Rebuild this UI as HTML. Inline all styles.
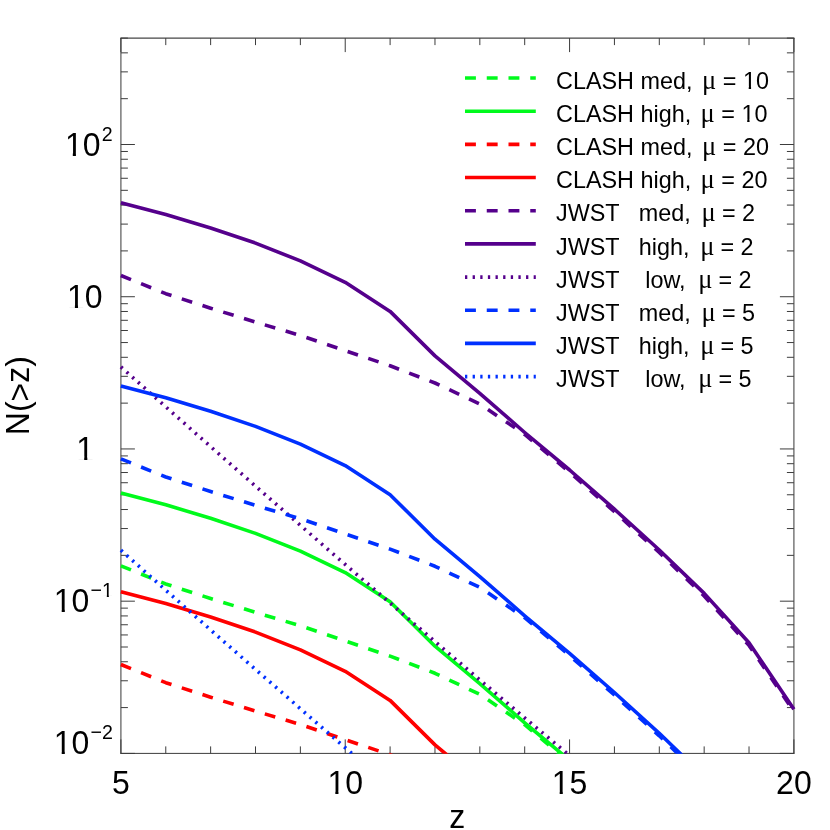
<!DOCTYPE html>
<html><head><meta charset="utf-8"><title>N(&gt;z)</title>
<style>html,body{margin:0;padding:0;background:#fff}svg{display:block;will-change:transform}text{font-family:"Liberation Sans",sans-serif;fill:#000;white-space:pre}.mu{font-family:"Liberation Serif",serif}</style></head><body>
<svg width="830" height="830" viewBox="0 0 830 830">
<rect width="830" height="830" fill="#fff"/>
<defs><clipPath id="c"><rect x="117.9" y="38.1" width="679.0" height="715.6"/></clipPath></defs>
<g stroke="#3c3c3c" stroke-width="1.2" fill="none">
<line x1="120.9" y1="38.1" x2="120.9" y2="753.4" stroke-opacity="0.85"/>
<line x1="793.9" y1="38.1" x2="793.9" y2="753.4" stroke-opacity="0.85"/>
<line x1="120.30000000000001" y1="38.1" x2="794.5" y2="38.1" stroke-opacity="0.95"/>
<line x1="120.30000000000001" y1="753.4" x2="794.5" y2="753.4" stroke-width="1"/>
</g>
<g stroke="#3c3c3c" stroke-width="1" fill="none">
<line x1="120.90" y1="753.4" x2="120.90" y2="739.4"/>
<line x1="120.90" y1="38.1" x2="120.90" y2="52.1"/>
<line x1="165.77" y1="753.4" x2="165.77" y2="746.4"/>
<line x1="165.77" y1="38.1" x2="165.77" y2="45.1"/>
<line x1="210.63" y1="753.4" x2="210.63" y2="746.4"/>
<line x1="210.63" y1="38.1" x2="210.63" y2="45.1"/>
<line x1="255.50" y1="753.4" x2="255.50" y2="746.4"/>
<line x1="255.50" y1="38.1" x2="255.50" y2="45.1"/>
<line x1="300.37" y1="753.4" x2="300.37" y2="746.4"/>
<line x1="300.37" y1="38.1" x2="300.37" y2="45.1"/>
<line x1="345.23" y1="753.4" x2="345.23" y2="739.4"/>
<line x1="345.23" y1="38.1" x2="345.23" y2="52.1"/>
<line x1="390.10" y1="753.4" x2="390.10" y2="746.4"/>
<line x1="390.10" y1="38.1" x2="390.10" y2="45.1"/>
<line x1="434.97" y1="753.4" x2="434.97" y2="746.4"/>
<line x1="434.97" y1="38.1" x2="434.97" y2="45.1"/>
<line x1="479.83" y1="753.4" x2="479.83" y2="746.4"/>
<line x1="479.83" y1="38.1" x2="479.83" y2="45.1"/>
<line x1="524.70" y1="753.4" x2="524.70" y2="746.4"/>
<line x1="524.70" y1="38.1" x2="524.70" y2="45.1"/>
<line x1="569.57" y1="753.4" x2="569.57" y2="739.4"/>
<line x1="569.57" y1="38.1" x2="569.57" y2="52.1"/>
<line x1="614.43" y1="753.4" x2="614.43" y2="746.4"/>
<line x1="614.43" y1="38.1" x2="614.43" y2="45.1"/>
<line x1="659.30" y1="753.4" x2="659.30" y2="746.4"/>
<line x1="659.30" y1="38.1" x2="659.30" y2="45.1"/>
<line x1="704.17" y1="753.4" x2="704.17" y2="746.4"/>
<line x1="704.17" y1="38.1" x2="704.17" y2="45.1"/>
<line x1="749.03" y1="753.4" x2="749.03" y2="746.4"/>
<line x1="749.03" y1="38.1" x2="749.03" y2="45.1"/>
<line x1="793.90" y1="753.4" x2="793.90" y2="739.4"/>
<line x1="793.90" y1="38.1" x2="793.90" y2="52.1"/>
<line x1="120.9" y1="753.4" x2="134.9" y2="753.4"/>
<line x1="793.9" y1="753.4" x2="779.9" y2="753.4"/>
<line x1="120.9" y1="707.58" x2="127.9" y2="707.58"/>
<line x1="793.9" y1="707.58" x2="786.9" y2="707.58"/>
<line x1="120.9" y1="680.77" x2="127.9" y2="680.77"/>
<line x1="793.9" y1="680.77" x2="786.9" y2="680.77"/>
<line x1="120.9" y1="661.75" x2="127.9" y2="661.75"/>
<line x1="793.9" y1="661.75" x2="786.9" y2="661.75"/>
<line x1="120.9" y1="647.0" x2="127.9" y2="647.0"/>
<line x1="793.9" y1="647.0" x2="786.9" y2="647.0"/>
<line x1="120.9" y1="634.95" x2="127.9" y2="634.95"/>
<line x1="793.9" y1="634.95" x2="786.9" y2="634.95"/>
<line x1="120.9" y1="624.76" x2="127.9" y2="624.76"/>
<line x1="793.9" y1="624.76" x2="786.9" y2="624.76"/>
<line x1="120.9" y1="615.93" x2="127.9" y2="615.93"/>
<line x1="793.9" y1="615.93" x2="786.9" y2="615.93"/>
<line x1="120.9" y1="608.14" x2="127.9" y2="608.14"/>
<line x1="793.9" y1="608.14" x2="786.9" y2="608.14"/>
<line x1="120.9" y1="601.18" x2="134.9" y2="601.18"/>
<line x1="793.9" y1="601.18" x2="779.9" y2="601.18"/>
<line x1="120.9" y1="555.35" x2="127.9" y2="555.35"/>
<line x1="793.9" y1="555.35" x2="786.9" y2="555.35"/>
<line x1="120.9" y1="528.55" x2="127.9" y2="528.55"/>
<line x1="793.9" y1="528.55" x2="786.9" y2="528.55"/>
<line x1="120.9" y1="509.53" x2="127.9" y2="509.53"/>
<line x1="793.9" y1="509.53" x2="786.9" y2="509.53"/>
<line x1="120.9" y1="494.77" x2="127.9" y2="494.77"/>
<line x1="793.9" y1="494.77" x2="786.9" y2="494.77"/>
<line x1="120.9" y1="482.72" x2="127.9" y2="482.72"/>
<line x1="793.9" y1="482.72" x2="786.9" y2="482.72"/>
<line x1="120.9" y1="472.53" x2="127.9" y2="472.53"/>
<line x1="793.9" y1="472.53" x2="786.9" y2="472.53"/>
<line x1="120.9" y1="463.7" x2="127.9" y2="463.7"/>
<line x1="793.9" y1="463.7" x2="786.9" y2="463.7"/>
<line x1="120.9" y1="455.92" x2="127.9" y2="455.92"/>
<line x1="793.9" y1="455.92" x2="786.9" y2="455.92"/>
<line x1="120.9" y1="448.95" x2="134.9" y2="448.95"/>
<line x1="793.9" y1="448.95" x2="779.9" y2="448.95"/>
<line x1="120.9" y1="403.13" x2="127.9" y2="403.13"/>
<line x1="793.9" y1="403.13" x2="786.9" y2="403.13"/>
<line x1="120.9" y1="376.32" x2="127.9" y2="376.32"/>
<line x1="793.9" y1="376.32" x2="786.9" y2="376.32"/>
<line x1="120.9" y1="357.3" x2="127.9" y2="357.3"/>
<line x1="793.9" y1="357.3" x2="786.9" y2="357.3"/>
<line x1="120.9" y1="342.55" x2="127.9" y2="342.55"/>
<line x1="793.9" y1="342.55" x2="786.9" y2="342.55"/>
<line x1="120.9" y1="330.5" x2="127.9" y2="330.5"/>
<line x1="793.9" y1="330.5" x2="786.9" y2="330.5"/>
<line x1="120.9" y1="320.31" x2="127.9" y2="320.31"/>
<line x1="793.9" y1="320.31" x2="786.9" y2="320.31"/>
<line x1="120.9" y1="311.48" x2="127.9" y2="311.48"/>
<line x1="793.9" y1="311.48" x2="786.9" y2="311.48"/>
<line x1="120.9" y1="303.69" x2="127.9" y2="303.69"/>
<line x1="793.9" y1="303.69" x2="786.9" y2="303.69"/>
<line x1="120.9" y1="296.73" x2="134.9" y2="296.73"/>
<line x1="793.9" y1="296.73" x2="779.9" y2="296.73"/>
<line x1="120.9" y1="250.9" x2="127.9" y2="250.9"/>
<line x1="793.9" y1="250.9" x2="786.9" y2="250.9"/>
<line x1="120.9" y1="224.1" x2="127.9" y2="224.1"/>
<line x1="793.9" y1="224.1" x2="786.9" y2="224.1"/>
<line x1="120.9" y1="205.08" x2="127.9" y2="205.08"/>
<line x1="793.9" y1="205.08" x2="786.9" y2="205.08"/>
<line x1="120.9" y1="190.32" x2="127.9" y2="190.32"/>
<line x1="793.9" y1="190.32" x2="786.9" y2="190.32"/>
<line x1="120.9" y1="178.27" x2="127.9" y2="178.27"/>
<line x1="793.9" y1="178.27" x2="786.9" y2="178.27"/>
<line x1="120.9" y1="168.08" x2="127.9" y2="168.08"/>
<line x1="793.9" y1="168.08" x2="786.9" y2="168.08"/>
<line x1="120.9" y1="159.25" x2="127.9" y2="159.25"/>
<line x1="793.9" y1="159.25" x2="786.9" y2="159.25"/>
<line x1="120.9" y1="151.47" x2="127.9" y2="151.47"/>
<line x1="793.9" y1="151.47" x2="786.9" y2="151.47"/>
<line x1="120.9" y1="144.5" x2="134.9" y2="144.5"/>
<line x1="793.9" y1="144.5" x2="779.9" y2="144.5"/>
<line x1="120.9" y1="98.68" x2="127.9" y2="98.68"/>
<line x1="793.9" y1="98.68" x2="786.9" y2="98.68"/>
<line x1="120.9" y1="71.87" x2="127.9" y2="71.87"/>
<line x1="793.9" y1="71.87" x2="786.9" y2="71.87"/>
<line x1="120.9" y1="52.85" x2="127.9" y2="52.85"/>
<line x1="793.9" y1="52.85" x2="786.9" y2="52.85"/>
<line x1="120.9" y1="38.1" x2="127.9" y2="38.1"/>
<line x1="793.9" y1="38.1" x2="786.9" y2="38.1"/>
</g>
<g clip-path="url(#c)" fill="none" stroke-width="3.6" stroke-linejoin="round">
<polyline points="120.9,565.8 165.8,584.0 210.6,598.5 255.5,612.4 300.4,625.8 345.2,640.9 390.1,656.1 435.0,673.3 479.8,694.3 524.7,724.7 569.6,762.6 614.4,802.0 659.3,842.8 704.2,886.3" stroke="#00fa1c" stroke-dasharray="10.9 10.85" stroke-dashoffset="0"/>
<polyline points="120.9,493.0 165.8,504.8 210.6,518.3 255.5,533.4 300.4,551.2 345.2,572.6 390.1,601.7 435.0,646.2 479.8,683.6 524.7,722.8 569.6,760.3 614.4,799.5 659.3,840.3 704.2,883.7" stroke="#00fa1c"/>
<polyline points="120.9,664.5 165.8,682.7 210.6,697.2 255.5,711.1 300.4,724.5 345.2,739.6 390.1,754.8 435.0,772.0 479.8,793.0 524.7,823.4 569.6,861.3" stroke="#ff0000" stroke-dasharray="10.9 10.85" stroke-dashoffset="0"/>
<polyline points="120.9,591.7 165.8,603.5 210.6,617.0 255.5,632.1 300.4,649.9 345.2,671.3 390.1,700.4 435.0,744.9 479.8,782.3 524.7,821.5 569.6,859.0 614.4,898.2" stroke="#ff0000"/>
<polyline points="120.9,275.5 165.8,293.7 210.6,308.2 255.5,322.1 300.4,335.5 345.2,350.6 390.1,365.8 435.0,383.0 479.8,404.0 524.7,434.4 569.6,472.3 614.4,511.7 659.3,552.5 704.2,596.0 749.0,645.4 793.9,711.6" stroke="#55008c" stroke-dasharray="10.9 10.85" stroke-dashoffset="0"/>
<polyline points="120.9,202.7 165.8,214.5 210.6,228.0 255.5,243.1 300.4,260.9 345.2,282.3 390.1,311.4 435.0,355.9 479.8,393.3 524.7,432.5 569.6,470.0 614.4,509.2 659.3,550.0 704.2,593.4 749.0,642.8 793.9,709.3" stroke="#55008c"/>
<polyline points="120.9,366.9 165.8,406.9 210.6,446.6 255.5,486.1 300.4,525.4 345.2,564.4 390.1,603.1 435.0,641.6 479.8,679.9 524.7,717.9 569.6,755.6 614.4,793.1 659.3,830.4 704.2,867.4" stroke="#55008c" stroke-dasharray="2.3 5.33" stroke-dashoffset="0"/>
<polyline points="120.9,458.8 165.8,477.0 210.6,491.5 255.5,505.4 300.4,518.8 345.2,533.9 390.1,549.1 435.0,566.3 479.8,587.3 524.7,617.7 569.6,655.6 614.4,695.0 659.3,735.8 704.2,779.3 749.0,828.7 793.9,894.9" stroke="#0030ff" stroke-dasharray="10.9 10.85" stroke-dashoffset="0"/>
<polyline points="120.9,386.0 165.8,397.8 210.6,411.3 255.5,426.4 300.4,444.2 345.2,465.6 390.1,494.7 435.0,539.2 479.8,576.6 524.7,615.8 569.6,653.3 614.4,692.5 659.3,733.3 704.2,776.7 749.0,826.1 793.9,892.6" stroke="#0030ff"/>
<polyline points="120.9,550.2 165.8,590.2 210.6,629.9 255.5,669.4 300.4,708.7 345.2,747.7 390.1,786.4 435.0,824.9 479.8,863.2" stroke="#0030ff" stroke-dasharray="2.3 5.33" stroke-dashoffset="0"/>
</g>
<text transform="translate(120.90,793.80) scale(1,1.04)" font-size="32.0" text-anchor="middle">5</text>
<text transform="translate(345.23,793.80) scale(1,1.04)" font-size="32.0" text-anchor="middle">10</text>
<text transform="translate(569.57,793.80) scale(1,1.04)" font-size="32.0" text-anchor="middle">15</text>
<text transform="translate(793.90,793.80) scale(1,1.04)" font-size="32.0" text-anchor="middle">20</text>
<text transform="translate(64.90,155.70) scale(1,1.04)" font-size="32.0">10<tspan font-size="19.6" dx="1.2" dy="-14.2">2</tspan></text>
<text transform="translate(67.00,307.50) scale(1,1.04)" font-size="32.0">10</text>
<text transform="translate(76.30,459.50) scale(1,1.04)" font-size="32.0">1</text>
<text transform="translate(53.80,611.80) scale(1,1.04)" font-size="32.0">10<tspan font-size="19.6" dx="1.2" dy="-14.2">−1</tspan></text>
<text transform="translate(53.80,753.80) scale(1,1.04)" font-size="32.0">10<tspan font-size="19.6" dx="1.2" dy="-14.2">−2</tspan></text>
<rect x="328.39" y="790.86" width="6.94" height="3.39" fill="#fff"/>
<rect x="338.46" y="790.86" width="6.42" height="3.39" fill="#fff"/>
<rect x="552.73" y="790.86" width="6.94" height="3.39" fill="#fff"/>
<rect x="562.79" y="790.86" width="6.42" height="3.39" fill="#fff"/>
<rect x="65.86" y="152.76" width="6.94" height="3.39" fill="#fff"/>
<rect x="75.92" y="152.76" width="6.42" height="3.39" fill="#fff"/>
<rect x="67.96" y="304.56" width="6.94" height="3.39" fill="#fff"/>
<rect x="78.02" y="304.56" width="6.42" height="3.39" fill="#fff"/>
<rect x="77.26" y="456.56" width="6.94" height="3.39" fill="#fff"/>
<rect x="87.32" y="456.56" width="6.42" height="3.39" fill="#fff"/>
<rect x="54.76" y="608.86" width="6.94" height="3.39" fill="#fff"/>
<rect x="64.82" y="608.86" width="6.42" height="3.39" fill="#fff"/>
<rect x="54.76" y="750.86" width="6.94" height="3.39" fill="#fff"/>
<rect x="64.82" y="750.86" width="6.42" height="3.39" fill="#fff"/>
<rect x="102.63" y="595.06" width="4.19" height="2.42" fill="#fff"/>
<rect x="108.85" y="595.06" width="3.87" height="2.42" fill="#fff"/>
<text transform="translate(457.30,828.00) scale(1,1.04)" font-size="32" text-anchor="middle">z</text>
<text transform="translate(28.90,395.60) rotate(-90) scale(1,1.04)" font-size="32" text-anchor="middle">N(<tspan dy="2.1">&gt;</tspan><tspan dy="-2.1">z)</tspan></text>
<g fill="none" stroke-width="3.6">
<line x1="465.0" y1="78.0" x2="535.8" y2="78.0" stroke="#00fa1c" stroke-dasharray="10.9 10.85"/>
<line x1="465.0" y1="111.2" x2="535.8" y2="111.2" stroke="#00fa1c"/>
<line x1="465.0" y1="144.4" x2="535.8" y2="144.4" stroke="#ff0000" stroke-dasharray="10.9 10.85"/>
<line x1="465.0" y1="177.5" x2="535.8" y2="177.5" stroke="#ff0000"/>
<line x1="465.0" y1="210.7" x2="535.8" y2="210.7" stroke="#55008c" stroke-dasharray="10.9 10.85"/>
<line x1="465.0" y1="243.9" x2="535.8" y2="243.9" stroke="#55008c"/>
<line x1="465.0" y1="277.1" x2="535.8" y2="277.1" stroke="#55008c" stroke-dasharray="2.3 5.33"/>
<line x1="465.0" y1="310.3" x2="535.8" y2="310.3" stroke="#0030ff" stroke-dasharray="10.9 10.85"/>
<line x1="465.0" y1="343.4" x2="535.8" y2="343.4" stroke="#0030ff"/>
<line x1="465.0" y1="376.6" x2="535.8" y2="376.6" stroke="#0030ff" stroke-dasharray="2.3 5.33"/>
</g>
<text transform="translate(556.00,88.60) scale(1,1.04)" font-size="23.4">CLASH med,</text>
<text transform="translate(702.00,88.60) scale(1,1.04)" font-size="26.5" class="mu">μ</text>
<text transform="translate(722.80,88.60) scale(1,1.04)" font-size="23.4">= 10</text>
<rect x="743.67" y="86.33" width="5.03" height="2.72" fill="#fff"/>
<rect x="751.07" y="86.33" width="4.65" height="2.72" fill="#fff"/>
<text transform="translate(556.00,121.78) scale(1,1.04)" font-size="23.4">CLASH high,</text>
<text transform="translate(700.60,121.78) scale(1,1.04)" font-size="26.5" class="mu">μ</text>
<text transform="translate(721.30,121.78) scale(1,1.04)" font-size="23.4">= 10</text>
<rect x="742.17" y="119.51" width="5.03" height="2.72" fill="#fff"/>
<rect x="749.57" y="119.51" width="4.65" height="2.72" fill="#fff"/>
<text transform="translate(556.00,154.96) scale(1,1.04)" font-size="23.4">CLASH med,</text>
<text transform="translate(702.00,154.96) scale(1,1.04)" font-size="26.5" class="mu">μ</text>
<text transform="translate(722.80,154.96) scale(1,1.04)" font-size="23.4">= 20</text>
<text transform="translate(556.00,188.14) scale(1,1.04)" font-size="23.4">CLASH high,</text>
<text transform="translate(700.60,188.14) scale(1,1.04)" font-size="26.5" class="mu">μ</text>
<text transform="translate(721.30,188.14) scale(1,1.04)" font-size="23.4">= 20</text>
<text transform="translate(556.00,221.32) scale(1,1.04)" font-size="23.4">JWST   med,</text>
<text transform="translate(701.55,221.32) scale(1,1.04)" font-size="26.5" class="mu">μ</text>
<text transform="translate(721.90,221.32) scale(1,1.04)" font-size="23.4">= 2</text>
<text transform="translate(556.00,254.50) scale(1,1.04)" font-size="23.4">JWST   high,</text>
<text transform="translate(700.15,254.50) scale(1,1.04)" font-size="26.5" class="mu">μ</text>
<text transform="translate(720.40,254.50) scale(1,1.04)" font-size="23.4">= 2</text>
<text transform="translate(556.00,287.68) scale(1,1.04)" font-size="23.4">JWST    low,</text>
<text transform="translate(698.35,287.68) scale(1,1.04)" font-size="26.5" class="mu">μ</text>
<text transform="translate(718.40,287.68) scale(1,1.04)" font-size="23.4">= 2</text>
<text transform="translate(556.00,320.86) scale(1,1.04)" font-size="23.4">JWST   med,</text>
<text transform="translate(701.55,320.86) scale(1,1.04)" font-size="26.5" class="mu">μ</text>
<text transform="translate(721.90,320.86) scale(1,1.04)" font-size="23.4">= 5</text>
<text transform="translate(556.00,354.04) scale(1,1.04)" font-size="23.4">JWST   high,</text>
<text transform="translate(700.15,354.04) scale(1,1.04)" font-size="26.5" class="mu">μ</text>
<text transform="translate(720.40,354.04) scale(1,1.04)" font-size="23.4">= 5</text>
<text transform="translate(556.00,387.22) scale(1,1.04)" font-size="23.4">JWST    low,</text>
<text transform="translate(698.35,387.22) scale(1,1.04)" font-size="26.5" class="mu">μ</text>
<text transform="translate(718.40,387.22) scale(1,1.04)" font-size="23.4">= 5</text>
</svg></body></html>
